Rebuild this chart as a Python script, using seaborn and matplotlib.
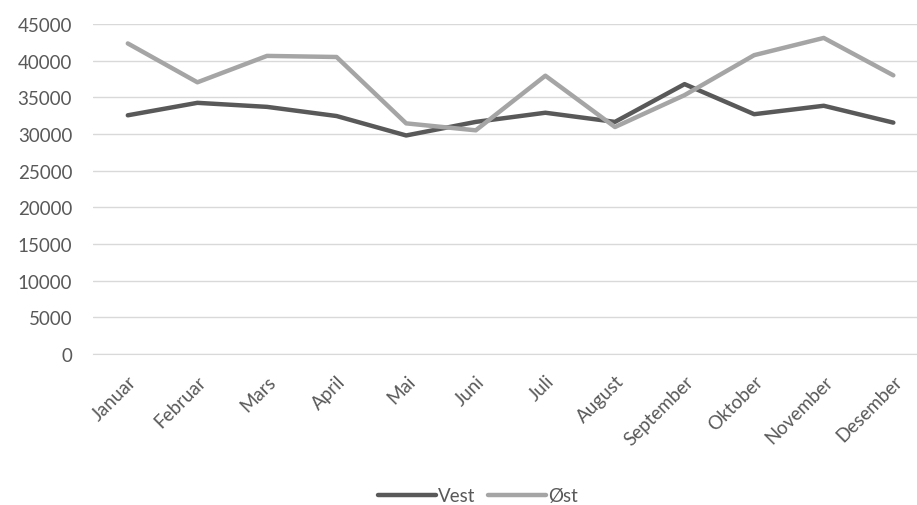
import pandas as pd
import matplotlib.pyplot as plt
import seaborn as sns

# Monthly values
months = ["Januar", "Februar", "Mars", "April", "Mai", "Juni",
          "Juli", "August", "September", "Oktober", "November", "Desember"]
vest = [32550, 34250, 33700, 32450, 29800, 31650,
        32900, 31650, 36800, 32700, 33850, 31550]
ost = [42350, 37050, 40650, 40500, 31450, 30500,
       37950, 30950, 35300, 40750, 43100, 38000]
series = ["Vest", "Øst"]
colors = ["#595959", "#A5A5A5"]

df = pd.DataFrame({
    "month": months * 2,
    "value": vest + ost,
    "series": [series[0]] * len(months) + [series[1]] * len(months),
})

sns.set_style("white")
plt.rcParams["font.family"] = ["Lato", "DejaVu Sans"]

fig = plt.figure(figsize=(9.17, 5.06), dpi=100)
ax = fig.add_axes([93 / 917, 1 - 355 / 506, 1 - 93 / 917, (355 - 25) / 506])

sns.lineplot(data=df, x="month", y="value", hue="series", palette=colors,
             linewidth=3.2, sort=False, ax=ax)

ax.set_ylim(0, 45000)
ax.set_yticks(range(0, 45001, 5000))
ax.set_xlim(-0.5, 11.34)
ax.grid(axis="y", color="#D9D9D9", linewidth=1)
ax.set_axisbelow(True)
for s in ax.spines.values():
    s.set_visible(False)
ax.spines["bottom"].set_visible(True)
ax.spines["bottom"].set_color("#D9D9D9")
ax.set_xlabel("")
ax.set_ylabel("")
ax.tick_params(axis="both", length=0, labelsize=13.5, colors="#595959")
ax.tick_params(axis="y", pad=15)
ax.tick_params(axis="x", pad=13)
plt.setp(ax.get_xticklabels(), rotation=45, ha="right", rotation_mode="anchor")

ax.legend(loc="center", bbox_to_anchor=(0.467, -0.43), ncol=2,
          frameon=False, handlelength=3.1, handletextpad=0.1, columnspacing=0.7,
          fontsize=13.5, labelcolor="#595959")

fig.savefig("out.png", dpi=100)
